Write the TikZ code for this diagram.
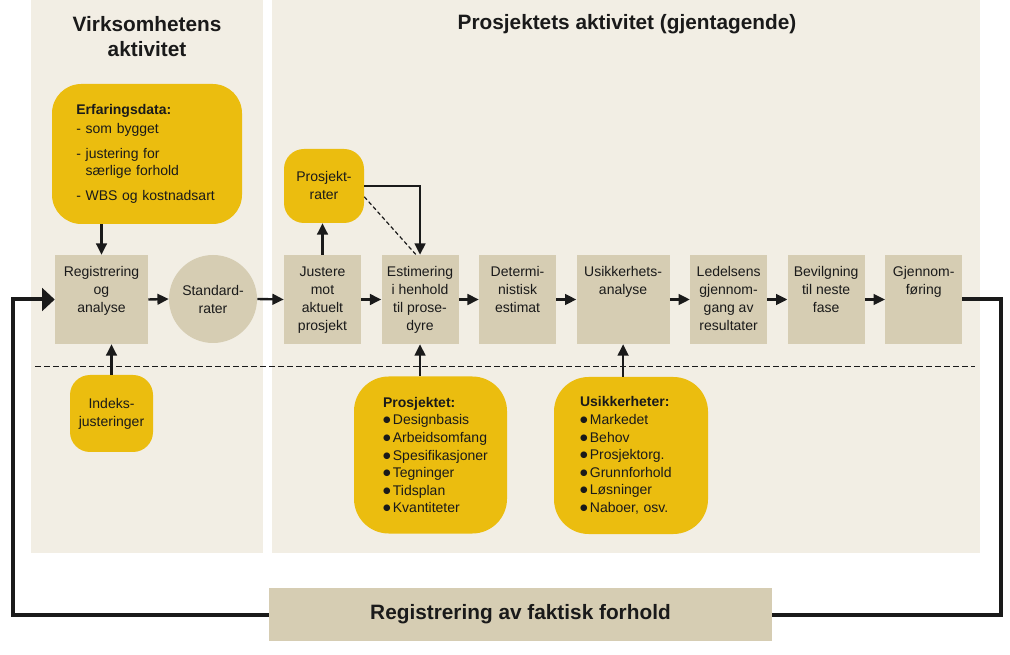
\documentclass[tikz,border=0pt]{standalone}
\usepackage{fontspec}
\setmainfont{Liberation Sans}
\newfontfamily\dotfont{DejaVu Sans}
\usetikzlibrary{arrows.meta,positioning}

\definecolor{panelbg}{HTML}{F2EEE4}
\definecolor{boxtan}{HTML}{D6CDB3}
\definecolor{ochre}{HTML}{EBBD0F}
\definecolor{ink}{HTML}{1A1A1A}

% text set at the top of a step box
\newcommand{\boxtxt}[2][57.75pt]{\parbox[c][52.75pt][t]{#1}{\centering\strut #2}}
\newcommand{\dotitem}[1]{\mbox{\raisebox{1.5pt}{\dotfont\fontsize{6.5}{6.5}\selectfont ●}\,#1}}

\tikzset{
	stepbox/.style={fill=boxtan, inner sep=0pt, minimum width=57.75pt, minimum height=66.75pt},
	widebox/.style={stepbox, minimum width=69.75pt},
	ratecircle/.style={circle, fill=boxtan, inner sep=0pt, minimum size=66pt, align=center},
	note/.style={fill=ochre, rounded corners=15pt, align=center},
	heading/.style={align=center, text=ink, font=\fontsize{15.6}{18.75}\selectfont\bfseries},
	flow/.style={draw=ink, line width=1.8pt, -{Triangle[length=8.5pt,width=8pt]}},
	feedback/.style={draw=ink, line width=3pt},
}

\begin{document}
\begin{tikzpicture}[x=0.75pt, y=-0.75pt, text=ink, font=\fontsize{10.5}{13.5}\selectfont]
	\useasboundingbox (0, 0) rectangle (1010, 655);

	% panels
	\fill [panelbg] (31, 0) rectangle (263, 553);
	\fill [panelbg] (272, 0) rectangle (980, 553);
	\draw [ink, line width=0.75pt, dash pattern=on 4.5pt off 2.25pt] (35, 367) -- (975, 367);

	% headings
	\node[heading] (virk) at (147, 37) {Virksomhetens\\aktivitet};
	\node[heading] (prosakt) at (627, 24) {Prosjektets aktivitet (gjentagende)};

	% experience data
	\node[note, rounded corners=22pt, minimum width=142.5pt, minimum height=105pt,
		align=left, text width=106pt, font=\fontsize{10.5}{12.75}\selectfont] (erf) at (147, 154)
		{\textbf{Erfaringsdata:}\\[1.2pt]
		- som bygget\\[6pt]
		- justering for\\
		\hphantom{-\ }særlige forhold\\[6pt]
		- WBS og kostnadsart};

	% main chain
	\node[widebox] (reg) at (101.5, 299.5) {\boxtxt[69.75pt]{Registrering\\og\\analyse}};
	\node[ratecircle] (std) at (213, 299) {Standard-\\rater};
	\node[stepbox] (just) at (322.5, 299.5) {\boxtxt{Justere\\mot\\aktuelt\\prosjekt}};
	\node[stepbox, right=15pt of just] (est) {\boxtxt{Estimering\\i henhold\\til prose-\\dyre}};
	\node[stepbox, right=15pt of est] (det) {\boxtxt{Determi-\\nistisk\\estimat}};
	\node[widebox, right=15pt of det] (usik) {\boxtxt[69.75pt]{Usikkerhets-\\analyse}};
	\node[stepbox, right=15pt of usik] (led) {\boxtxt{Ledelsens\\gjennom-\\gang av\\resultater}};
	\node[stepbox, right=15pt of led] (bev) {\boxtxt{Bevilgning\\til neste\\fase}};
	\node[stepbox, right=15pt of bev] (gjen) {\boxtxt{Gjennom-\\føring}};

	% inputs
	\node[note, minimum width=60pt, minimum height=55.5pt] (prosj) at (324, 186) {Prosjekt-\\rater};
	\node[note, minimum width=62.25pt, minimum height=57.75pt] (indeks) at (111.5, 413.5) {Indeks-\\justeringer};
	\node[note, rounded corners=26pt, minimum width=114.75pt, minimum height=117.75pt,
		align=left, text width=71.25pt, font=\fontsize{10.5}{13.2}\selectfont] (prosjektet) at (430.5, 455)
		{\textbf{Prosjektet:}\\
		\dotitem{Designbasis}\\
		\dotitem{Arbeidsomfang}\\
		\dotitem{Spesifikasjoner}\\
		\dotitem{Tegninger}\\
		\dotitem{Tidsplan}\\
		\dotitem{Kvantiteter}};
	\node[note, rounded corners=26pt, minimum width=115.5pt, minimum height=117.75pt,
		align=left, text width=76.5pt, font=\fontsize{10.5}{13.2}\selectfont] (usikh) at (631, 455.5)
		{\textbf{Usikkerheter:}\\
		\dotitem{Markedet}\\
		\dotitem{Behov}\\
		\dotitem{Prosjektorg.}\\
		\dotitem{Grunnforhold}\\
		\dotitem{Løsninger}\\
		\dotitem{Naboer, osv.}};

	% actual outcome
	\node[fill=boxtan, minimum width=377.25pt, minimum height=39.75pt,
		font=\fontsize{15.6}{18.75}\selectfont\bfseries] (faktisk) at (520.5, 614.5) {Registrering av faktisk forhold};

	% arrows
	\draw[flow] (erf.south -| reg.north) -- (reg.north);
	\draw[flow] (indeks.north) -- (indeks.north |- reg.south);
	\draw[flow] (reg.east) -- (std.west);
	\draw[flow] (std.east) -- (just.west);
	\draw[flow] (just.north) -- (just.north |- prosj.south);
	\draw[flow] (prosj.east) -| (est.north);
	\draw[ink, line width=0.9pt, dash pattern=on 3pt off 2pt] (prosj.-15) -- ([xshift=-3pt]est.north);
	\foreach \a/\b in {just/est, est/det, det/usik, usik/led, led/bev, bev/gjen}
		\draw[flow] (\a.east) -- (\b.west);
	\draw[flow] (prosjektet.north -| est.south) -- (est.south);
	\draw[flow] (usikh.north -| usik.south) -- (usik.south);

	% feedback loop
	\coordinate (loopne) at (1001, 299.5);
	\coordinate (loopnw) at (13, 299.5);
	\draw[feedback] (gjen.east) -- (loopne) |- (faktisk.east);
	\draw[feedback, -{Triangle[length=9.5pt,width=17pt]}] (faktisk.west) -| (loopnw) -- (reg.west);
\end{tikzpicture}
\end{document}
